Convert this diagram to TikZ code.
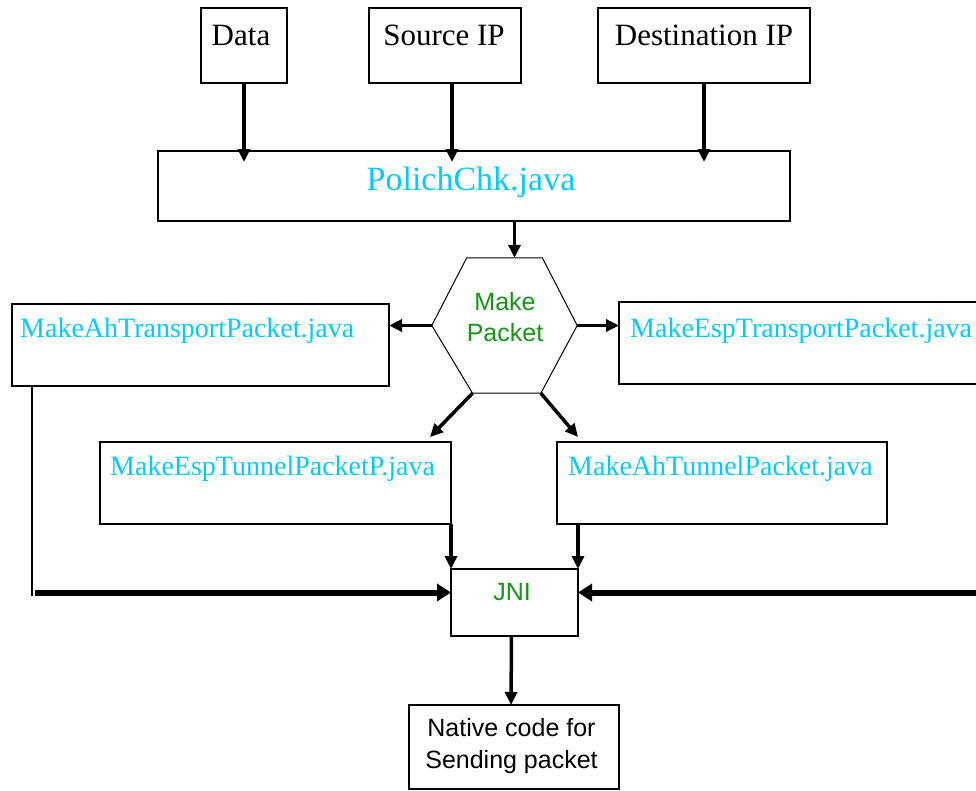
\documentclass[tikz,border=0pt]{standalone}
\usepackage{fontspec}
\setmainfont{Liberation Serif}
\newfontfamily\uisans{Liberation Sans}
\usetikzlibrary{calc,positioning,arrows.meta}
\definecolor{filecyan}{RGB}{0,204,255}
\definecolor{stepgreen}{RGB}{20,150,20}
\tikzset{
  pbox/.style={draw, line width=1.3pt, anchor=north west, inner sep=0pt, outer sep=0pt},
  hexline/.style={line width=1pt, line join=miter},
  inlbl/.style={font=\fontsize{31}{37}\selectfont, inner sep=0pt, anchor=base},
  filelbl/.style={font=\fontsize{28}{34}\selectfont, text=filecyan, inner sep=0pt, anchor=base west},
  uilbl/.style={font=\uisans\fontsize{25}{31}\selectfont, inner sep=0pt, align=center},
  flow/.style={line width=3.5pt, -{Triangle[length=13pt,width=12pt]}},
  into/.style={shorten >=-11pt},
  bus/.style={line width=6pt, -{Triangle[length=14pt,width=17pt]}},
  link/.style={line width=1.5pt},
}
\begin{document}
\begin{tikzpicture}[x=1pt,y=-1pt]
  \useasboundingbox (0,0) rectangle (976,790);
  % ---- inputs ----
  \node[pbox, minimum width=86pt, minimum height=75pt] (data) at (201,8) {};
  \node[pbox, minimum width=152pt, minimum height=75pt] (srcip) at (369,8) {};
  \node[pbox, minimum width=212pt, minimum height=75pt] (dstip) at (598,8) {};
  \node[inlbl] (data-t) at (241,45) {Data};
  \node[inlbl] (srcip-t) at (444,45) {Source IP};
  \node[inlbl] (dstip-t) at (704,45) {Destination IP};
  % ---- policy check ----
  \node[pbox, minimum width=632pt, minimum height=70pt] (polich) at (158,151) {};
  \node[inlbl, text=filecyan, font=\fontsize{34}{40}\selectfont] (polich-t) at (471,190) {PolichChk.java};
  % ---- make packet (hexagon) ----
  \node[minimum width=145pt, minimum height=135pt, inner sep=0pt] (mk) at (504.5,325.5) {};
  \draw[hexline] (mk.west) -- ($(mk.north west)!.24!(mk.north east)$)
    -- ($(mk.north west)!.76!(mk.north east)$) -- (mk.east)
    -- ($(mk.south west)!.75!(mk.south east)$)
    -- ($(mk.south west)!.28!(mk.south east)$) -- cycle;
  \node[uilbl, text=stepgreen] (mk-t) at (505,317.5) {Make\\Packet};
  % ---- packet builders ----
  \node[pbox, minimum width=377pt, minimum height=82pt] (ahtr) at (12,304) {};
  \node[pbox, minimum width=370pt, minimum height=82pt] (esptr) at (619,302) {};
  \node[pbox, minimum width=351pt, minimum height=82pt] (esptun) at (100,442) {};
  \node[pbox, minimum width=330pt, minimum height=82pt] (ahtun) at (557,442) {};
  \node[filelbl] (ahtr-t) at (20,337) {MakeAhTransportPacket.java};
  \node[filelbl] (esptr-t) at (630,337) {MakeEspTransportPacket.java};
  \node[filelbl] (esptun-t) at (110,475) {MakeEspTunnelPacketP.java};
  \node[filelbl] (ahtun-t) at (568,475) {MakeAhTunnelPacket.java};
  % ---- JNI and native side ----
  \node[pbox, minimum width=127pt, minimum height=67pt] (jni) at (451,569) {};
  \node[uilbl, text=stepgreen] (jni-t) at (512,592) {JNI};
  \node[pbox, minimum width=210pt, minimum height=84pt] (native) at (409,705) {};
  \node[uilbl, font=\uisans\fontsize{25}{32}\selectfont] (native-t) at (511.5,746.5) {Native code for\\Sending packet};
  % ---- connectors ----
  \draw[flow, into] (data.south) -- (data.south |- polich.north);
  \draw[flow, into] ([xshift=7pt]srcip.south) -- ([xshift=7pt]srcip.south |- polich.north);
  \draw[flow, into, line width=4.5pt] (dstip.south) -- (dstip.south |- polich.north);
  \draw[flow] ([xshift=10pt]mk.north |- polich.south) -- ([xshift=10pt]mk.north);
  \draw[flow] (mk.west) -- (mk.west -| ahtr.east);
  \draw[flow] (mk.east) -- (mk.east -| esptr.west);
  \draw[flow] ($(mk.south west)!.28!(mk.south east)$) -- ([xshift=-21pt,yshift=5pt]esptun.north east);
  \draw[flow] ($(mk.south west)!.75!(mk.south east)$) -- ([xshift=21pt,yshift=5pt]ahtun.north west);
  \draw[flow] (esptun.south east) -- (jni.north west);
  \draw[flow] (ahtun.south -| jni.north east) -- (jni.north east);
  \coordinate (jniL) at ([yshift=10pt]jni.west);
  \coordinate (jniR) at ([yshift=10pt]jni.east);
  \coordinate (tapL) at ([xshift=20pt]ahtr.south west |- jniL);
  \coordinate (rimR) at (990,592.5);
  \draw[link] ([xshift=20pt]ahtr.south west) -- ([yshift=-3pt]tapL);
  \draw[bus] ([xshift=3pt]tapL) -- (jniL);
  \draw[bus] (rimR) -- (jniR);
  \draw[flow] ([xshift=-3pt]jni.south) -- ([xshift=-3pt]native.north);
\end{tikzpicture}
\end{document}
